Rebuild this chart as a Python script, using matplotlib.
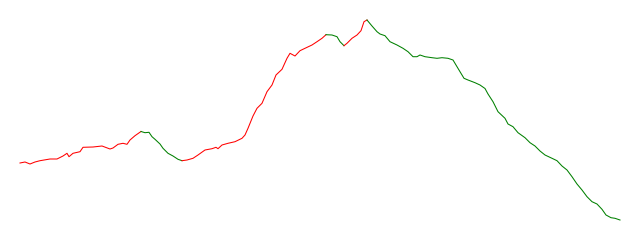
import matplotlib
matplotlib.use("Agg")
import matplotlib.pyplot as plt

# readings taken along the line (x position, level)
day = [20, 25, 30, 35, 40, 50, 57, 63, 67, 69, 73, 80, 83, 93, 102, 110, 113, 118, 123, 127,
       130, 135, 141, 145, 149, 152, 155, 160, 163, 168, 173, 178, 182, 187, 193, 198, 205,
       212, 216, 218, 222, 228, 235, 242, 245, 248, 253, 257, 262, 267, 272, 276, 282, 287,
       290, 295, 300, 305, 312, 317, 322, 326, 332, 337, 340, 344, 347, 352, 357, 361, 364,
       367, 372, 377, 380, 385, 390, 397, 403, 408, 413, 417, 420, 425, 432, 437, 442, 448,
       453, 457, 460, 464, 468, 475, 480, 485, 488, 493, 498, 505, 508, 513, 518, 525, 530,
       535, 540, 545, 552, 557, 562, 567, 572, 577, 582, 587, 592, 597, 602, 606, 611, 615, 620]
level = [77, 78, 76, 78, 79.3, 81, 81, 84, 86.7, 83.3, 86.7, 88.3, 92.7, 93, 94, 91, 92, 95.7,
         96.7, 95.7, 100, 104.3, 108.5, 107.3, 107.7, 103.3, 100.7, 96, 91.7, 86.7, 84, 80.7,
         79.3, 80, 81.7, 85, 90, 91.3, 92.7, 91.3, 95, 96.7, 98.3, 101.7, 105, 111.7, 124,
         131.7, 136.7, 148.3, 155, 165, 170.7, 181.7, 186.7, 184, 189.3, 191.7, 195, 198.3,
         201.7, 205.3, 205, 203.3, 198.3, 194.3, 196.7, 201.7, 205, 209.3, 218.3, 220, 214,
         208.3, 206, 204.3, 198.3, 195, 191.7, 188.3, 183.3, 183.3, 185, 183.3, 182.3, 181.7,
         182.3, 181.7, 180, 173.3, 168.3, 161.7, 160, 157.3, 155, 151.5, 146, 138.3, 128.3,
         121.7, 116, 113.3, 107.3, 102.3, 97.3, 94, 89, 85, 81.7, 79.3, 74, 70, 63.3, 56, 50,
         43.3, 38.3, 36, 30.7, 25, 22.3, 21.7, 20]

# turning points between rising and falling legs
turns = [20, 141, 182, 326, 344, 367, 620]

fig = plt.figure(figsize=(6.4, 2.4), dpi=100)
ax = fig.add_axes([0, 0, 1, 1])

for a, b in zip(turns[:-1], turns[1:]):
    xs = [d for d in day if a <= d <= b]
    ys = [level[day.index(d)] for d in xs]
    color = "red" if ys[-1] > ys[0] else "green"
    ax.plot(xs, ys, color=color, lw=0.75)

ax.set_xlim(0, 640)
ax.set_ylim(0, 240)
ax.axis("off")
fig.savefig("out.png", dpi=100)
